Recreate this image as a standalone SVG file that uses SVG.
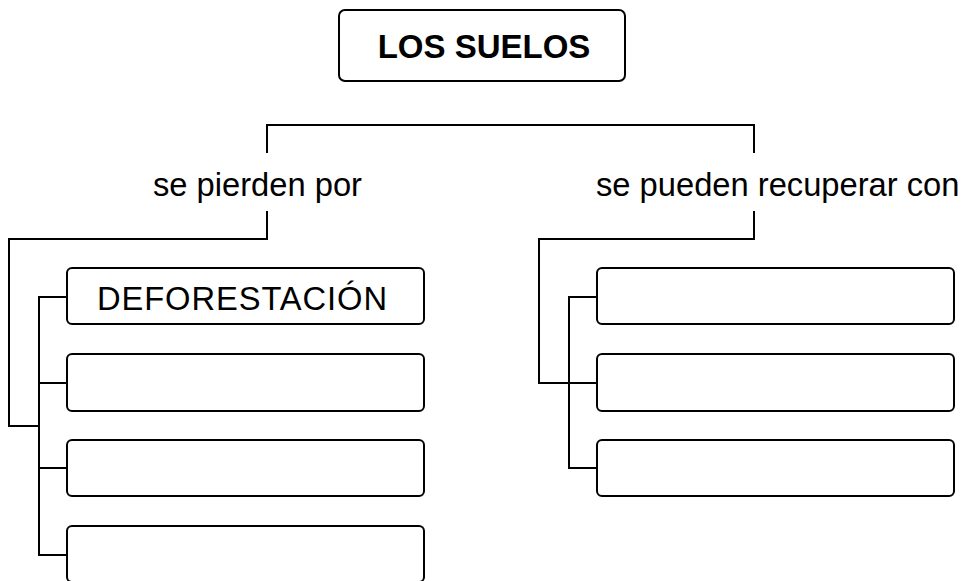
<svg xmlns="http://www.w3.org/2000/svg" width="965" height="581" viewBox="0 0 965 581">
<style>
.box{fill:#fff;stroke:#000;stroke-width:2}
.ln{fill:none;stroke:#000;stroke-width:2}
.t{font-family:"Liberation Sans",Arial,sans-serif;font-size:32.7px;fill:#000}
.b{font-weight:bold;font-size:33px}
</style>
<rect width="965" height="581" fill="#fff"/>
<g id="connectors">
<polyline class="ln" points="267,153 267,125 754,125 754,153"/>
<polyline class="ln" points="267,211 267,239 9,239 9,426 39,426"/>
<polyline class="ln" points="67,297 39,297 39,555 67,555"/>
<line class="ln" x1="39" y1="383" x2="67" y2="383"/>
<line class="ln" x1="39" y1="468" x2="67" y2="468"/>
<polyline class="ln" points="754,211 754,239 539,239 539,383 597,383"/>
<polyline class="ln" points="597,297 569,297 569,468 597,468"/>
</g>
<g id="title"><rect class="box" x="339" y="10" width="286" height="71" rx="6"/><text class="t b" x="484" y="58" text-anchor="middle">LOS SUELOS</text></g>
<g id="label-left"><text class="t" x="153" y="196">se pierden por</text></g>
<g id="label-right"><text class="t" x="596" y="196">se pueden recuperar con</text></g>
<g id="l1"><rect class="box" x="67" y="268" width="357" height="56" rx="5"/><text class="t" x="97" y="310" textLength="290" lengthAdjust="spacing">DEFORESTACIÓN</text></g>
<g id="l2"><rect class="box" x="67" y="354" width="357" height="57" rx="5"/></g>
<g id="l3"><rect class="box" x="67" y="440" width="357" height="56" rx="5"/></g>
<g id="l4"><rect class="box" x="67" y="526" width="357" height="56" rx="5"/></g>
<g id="r1"><rect class="box" x="597" y="268" width="357" height="56" rx="5"/></g>
<g id="r2"><rect class="box" x="597" y="354" width="357" height="57" rx="5"/></g>
<g id="r3"><rect class="box" x="597" y="440" width="357" height="56" rx="5"/></g>
</svg>
